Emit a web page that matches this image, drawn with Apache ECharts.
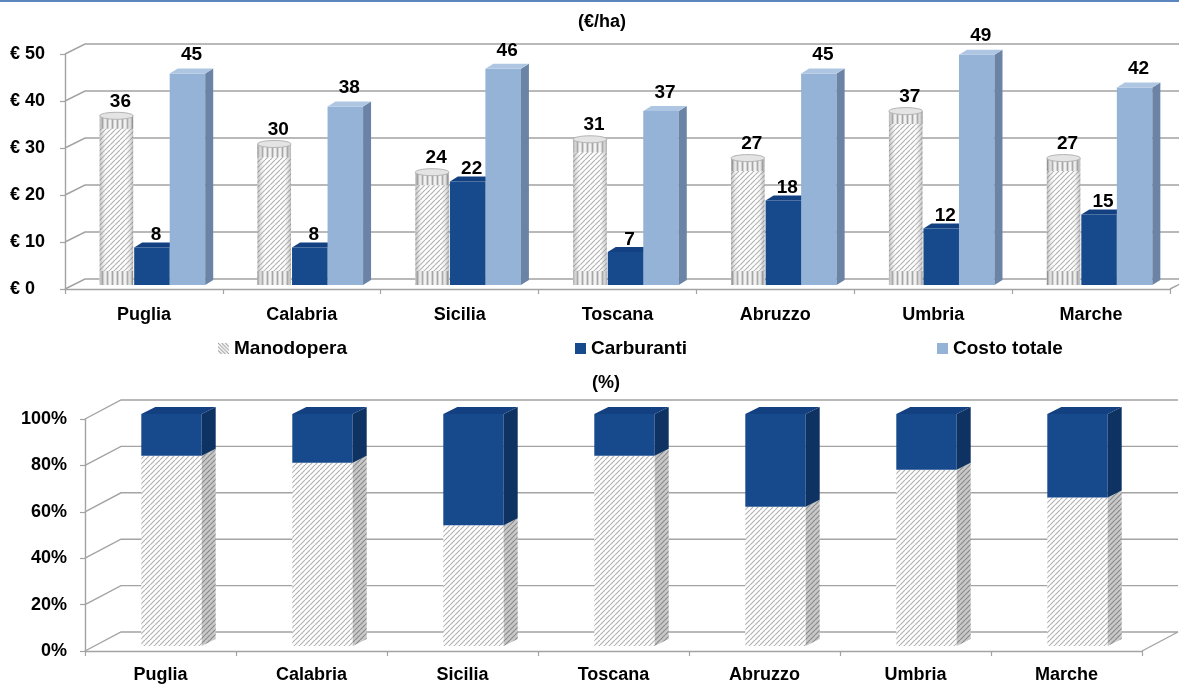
<!DOCTYPE html>
<html>
<head>
<meta charset="utf-8">
<title>Costi per ettaro</title>
<script src="https://cdn.jsdelivr.net/npm/echarts@6/dist/echarts.min.js"></script>
<style>
  html, body { margin: 0; padding: 0; background: #ffffff; }
  #chart { width: 1179px; height: 684px; }
</style>
</head>
<body>
<div id="chart"></div>
<script>
// Categories and values
const categories = ['Puglia', 'Calabria', 'Sicilia', 'Toscana', 'Abruzzo', 'Umbria', 'Marche'];
const manodopera = [36, 30, 24, 31, 27, 37, 27];       // €/ha
const carburanti = [8, 8, 22, 7, 18, 12, 15];          // €/ha
const costoTotale = [45, 38, 46, 37, 45, 49, 42];      // €/ha
const quotaManodopera = [82, 79, 52, 82, 60, 76, 64];  // %
const quotaCarburanti = [18, 21, 48, 18, 40, 24, 36];  // %
const euroTicks = [0, 10, 20, 30, 40, 50];
const pctTicks = [0, 20, 40, 60, 80, 100];

const FONT = 'Liberation Sans, Arial, sans-serif';
const GRID_LINE = '#a3a3a3';

// ---- fill patterns ----
function makeTile(size, bg, line, dir, lw) {
  const c = document.createElement('canvas');
  c.width = size; c.height = size;
  const g = c.getContext('2d');
  if (bg) { g.fillStyle = bg; g.fillRect(0, 0, size, size); }
  g.strokeStyle = line; g.lineWidth = lw;
  g.beginPath();
  if (dir === '/') {
    for (let k = -1; k <= 1; k++) {
      g.moveTo(k * size, size); g.lineTo(k * size + size, 0);
    }
  } else if (dir === '\\') {
    for (let k = -1; k <= 1; k++) {
      g.moveTo(k * size, 0); g.lineTo(k * size + size, size);
    }
  } else {
    g.moveTo(size / 2, 0); g.lineTo(size / 2, size);
  }
  g.stroke();
  return c;
}
const hatchFront = { image: makeTile(5, '#ffffff', '#b2b2b2', '/', 1.2), repeat: 'repeat' };
const hatchSide = { image: makeTile(5, '#c9c9c9', '#8a8a8a', '/', 1.2), repeat: 'repeat' };
const ribs = { image: makeTile(5, '#f2f2f2', '#a6a6a6', '|', 1.8), repeat: 'repeat' };

function legendHatchIcon() {
  const c = document.createElement('canvas');
  c.width = 12; c.height = 12;
  const g = c.getContext('2d');
  g.strokeStyle = '#9c9c9c'; g.lineWidth = 1.2;
  g.beginPath();
  for (let k = -12; k <= 12; k += 4) { g.moveTo(k, 0); g.lineTo(k + 12, 12); }
  g.stroke();
  return 'image://' + c.toDataURL();
}

// ---- colours ----
const BLUE_DARK = { front: '#174A8C', side: '#0E3261', top: '#134080' };
const BLUE_LIGHT = { front: '#95B3D7', side: '#6B84A6', top: '#AFC6E3' };

// ---- depth geometry of the two plots ----
const TOP = { wallDx: 20, wallDy: -10, shiftX: 8, shiftY: -4, sideX: 8, sideY: -5, barRatio: 0.225 };
const BOT = { wallDx: 36, wallDy: -19, shiftX: 11, shiftY: -5, sideX: 14, sideY: -7, barRatio: 0.40 };

function box(x0, yTop, yBot, w, g, colors, withTop) {
  const out = [
    { type: 'rect', shape: { x: x0, y: yTop, width: w, height: yBot - yTop }, style: { fill: colors.front } },
    { type: 'polygon', shape: { points: [[x0 + w, yTop], [x0 + w + g.sideX, yTop + g.sideY], [x0 + w + g.sideX, yBot + g.sideY], [x0 + w, yBot]] }, style: { fill: colors.side } }
  ];
  if (withTop) {
    out.push({ type: 'polygon', shape: { points: [[x0, yTop], [x0 + g.sideX, yTop + g.sideY], [x0 + w + g.sideX, yTop + g.sideY], [x0 + w, yTop]] }, style: { fill: colors.top } });
  }
  return out;
}

function valueLabel(text, x, y) {
  return { type: 'text', style: { text: text, x: x, y: y, align: 'center', verticalAlign: 'bottom', font: 'bold 19px ' + FONT, fill: '#000000' } };
}

// Back wall and floor lines of a plot
function wallSeries(gridIdx, ticks, g) {
  return {
    type: 'custom', xAxisIndex: gridIdx, yAxisIndex: gridIdx, z: 1, silent: true,
    data: ticks.map(v => [0, v]),
    renderItem: function (params, api) {
      const cs = params.coordSys;
      const v = api.value(1);
      const y = api.coord([0, v])[1];
      const x0 = cs.x, x1 = cs.x + cs.width;
      const children = [{
        type: 'polyline',
        shape: { points: [[x0, y], [x0 + g.wallDx, y + g.wallDy], [x1 + g.wallDx, y + g.wallDy]] },
        style: { stroke: GRID_LINE, lineWidth: 1.4, fill: null }
      }];
      if (v === 0) {
        children.push({ type: 'line', shape: { x1: x1, y1: y, x2: x1 + g.wallDx, y2: y + g.wallDy }, style: { stroke: GRID_LINE, lineWidth: 1.4 } });
      }
      return { type: 'group', children: children };
    }
  };
}

// Clustered bars (top plot): k = position in the cluster
function clusterSeries(name, values, k, kind, labelGap, color) {
  return {
    name: name, type: 'custom', xAxisIndex: 0, yAxisIndex: 0, z: 3,
    itemStyle: { color: color },
    data: values.map((v, i) => [i, v]),
    renderItem: function (params, api) {
      const i = api.value(0), v = api.value(1);
      const top = api.coord([i, v]);
      const base = api.coord([i, 0]);
      const bw = api.size([1, 0])[0] * TOP.barRatio;
      const cx = top[0] + TOP.shiftX + (k - 1) * bw;
      const x0 = cx - bw / 2;
      const yTop = top[1] + TOP.shiftY;
      const yBot = base[1] + TOP.shiftY;
      let children;
      if (kind === 'cylinder') {
        const w = bw - 2;
        const xa = cx - w / 2;
        children = [
          { type: 'rect', shape: { x: xa, y: yTop, width: w, height: yBot - yTop }, style: { fill: hatchFront } },
          { type: 'rect', shape: { x: xa, y: yTop, width: w, height: 13 }, style: { fill: ribs } },
          { type: 'rect', shape: { x: xa, y: yBot - 14, width: w, height: 14 }, style: { fill: ribs } },
          { type: 'rect', shape: { x: xa, y: yTop, width: w, height: yBot - yTop },
            style: { fill: { type: 'linear', x: 0, y: 0, x2: 1, y2: 0, colorStops: [
              { offset: 0, color: 'rgba(110,110,110,0.45)' },
              { offset: 0.25, color: 'rgba(255,255,255,0)' },
              { offset: 0.75, color: 'rgba(255,255,255,0)' },
              { offset: 1, color: 'rgba(110,110,110,0.45)' }] } } },
          { type: 'ellipse', shape: { cx: cx, cy: yTop, rx: w / 2, ry: 3.5 }, style: { fill: '#e4e4e4', stroke: '#b4b4b4', lineWidth: 1 } }
        ];
      } else {
        children = box(x0, yTop, yBot, bw, TOP, kind === 'dark' ? BLUE_DARK : BLUE_LIGHT, true);
      }
      children.push(valueLabel(String(v), cx + TOP.sideX / 2, yTop - labelGap));
      return { type: 'group', children: children };
    }
  };
}

// Stacked 100% bars (bottom plot)
function stackSeries(name, lower, share, isHatch, color) {
  return {
    name: name, type: 'custom', xAxisIndex: 1, yAxisIndex: 1, z: 3,
    itemStyle: { color: color },
    data: share.map((v, i) => [i, lower ? lower[i] : 0, v]),
    renderItem: function (params, api) {
      const i = api.value(0), from = api.value(1), v = api.value(2);
      const pTop = api.coord([i, from + v]);
      const pBot = api.coord([i, from]);
      const bw = api.size([1, 0])[0] * BOT.barRatio;
      const cx = pTop[0] + BOT.shiftX;
      const x0 = cx - bw / 2;
      const yTop = pTop[1] + BOT.shiftY;
      const yBot = pBot[1] + BOT.shiftY;
      const colors = isHatch ? { front: hatchFront, side: hatchSide, top: '#d8d8d8' } : BLUE_DARK;
      return { type: 'group', children: box(x0, yTop, yBot, bw, BOT, colors, !isHatch) };
    }
  };
}

function catAxis(gridIndex, margin) {
  return {
    gridIndex: gridIndex, type: 'category', data: categories,
    axisLine: { lineStyle: { color: GRID_LINE, width: 1.4 } },
    axisTick: { show: true, length: 5, lineStyle: { color: GRID_LINE, width: 1.2 } },
    axisLabel: { interval: 0, margin: margin, color: '#000', fontFamily: FONT, fontWeight: 'bold', fontSize: 18 },
    splitLine: { show: false }
  };
}
function valAxis(gridIndex, ticks, fmt, margin, align, size) {
  return {
    gridIndex: gridIndex, type: 'value', min: ticks[0], max: ticks[ticks.length - 1], interval: ticks[1] - ticks[0],
    axisLine: { show: true, lineStyle: { color: GRID_LINE, width: 1.4 } },
    axisTick: { show: true, length: 5, lineStyle: { color: GRID_LINE, width: 1.2 } },
    axisLabel: { formatter: fmt, margin: margin, align: align, color: '#000', fontFamily: FONT, fontWeight: 'bold', fontSize: size },
    splitLine: { show: false }
  };
}

const legendText = { color: '#000', fontFamily: FONT, fontWeight: 'bold', fontSize: 19 };
function legendAt(left, item) {
  return { left: left, top: 339, padding: 0, itemWidth: 11, itemHeight: 11, itemGap: 0,
           textStyle: legendText, selectedMode: false, data: [item] };
}

const chart = echarts.init(document.getElementById('chart'), null, { renderer: 'canvas' });
chart.setOption({
  animation: false,
  backgroundColor: '#ffffff',
  grid: [
    { left: 65, right: 9, top: 54, bottom: 395 },
    { left: 85, right: 37, top: 419, bottom: 31 }
  ],
  xAxis: [catAxis(0, 17), catAxis(1, 15)],
  yAxis: [
    valAxis(0, euroTicks, '€ {value}', 55, 'left', 18),
    valAxis(1, pctTicks, '{value}%', 18, 'right', 18)
  ],
  legend: [
    legendAt(218, { name: 'Manodopera', icon: legendHatchIcon() }),
    legendAt(575, { name: 'Carburanti', icon: 'rect' }),
    legendAt(937, { name: 'Costo totale', icon: 'rect' })
  ],
  graphic: [
    { type: 'rect', shape: { x: 0, y: 0, width: 1179, height: 2 }, style: { fill: '#5B86BE' }, silent: true },
    { type: 'text', x: 602, y: 22, style: { text: '(€/ha)', align: 'center', verticalAlign: 'middle', font: 'bold 18px ' + FONT, fill: '#000' } },
    { type: 'text', x: 606, y: 383, style: { text: '(%)', align: 'center', verticalAlign: 'middle', font: 'bold 18px ' + FONT, fill: '#000' } }
  ],
  series: [
    wallSeries(0, euroTicks, TOP),
    wallSeries(1, pctTicks, BOT),
    clusterSeries('Manodopera', manodopera, 0, 'cylinder', 5, '#c8c8c8'),
    clusterSeries('Carburanti', carburanti, 1, 'dark', 3, BLUE_DARK.front),
    clusterSeries('Costo totale', costoTotale, 2, 'light', 9, BLUE_LIGHT.front),
    stackSeries('Manodopera', null, quotaManodopera, true, '#c8c8c8'),
    stackSeries('Carburanti', quotaManodopera, quotaCarburanti, false, BLUE_DARK.front)
  ]
});
</script>
</body>
</html>
